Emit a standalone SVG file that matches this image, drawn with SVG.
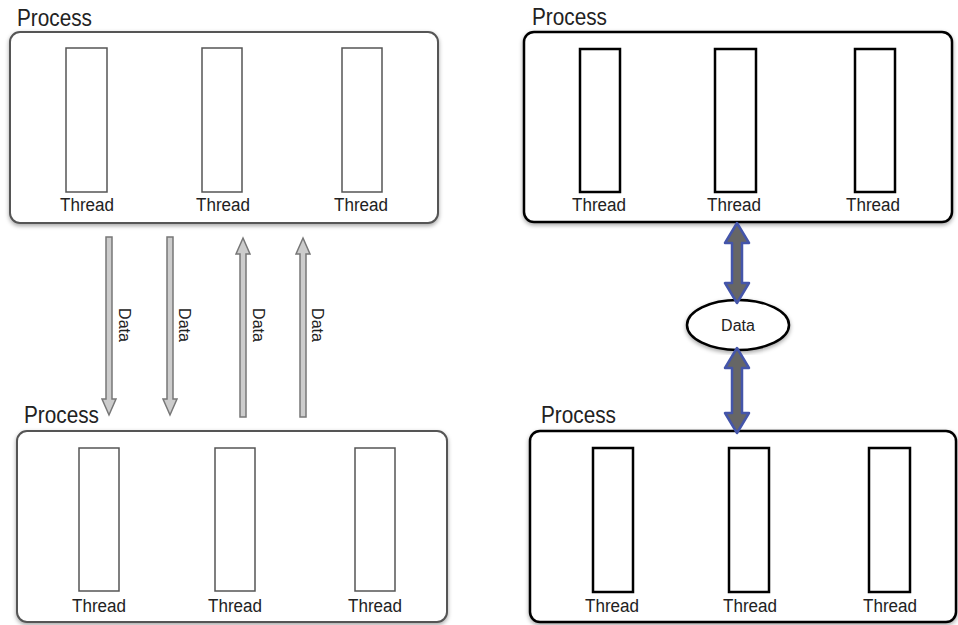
<svg xmlns="http://www.w3.org/2000/svg" width="958" height="625" viewBox="0 0 958 625">
<defs>
<filter id="sh" x="-5%" y="-5%" width="110%" height="115%">
<feDropShadow dx="0" dy="2" stdDeviation="2" flood-color="#000" flood-opacity="0.35"/>
</filter>
</defs>
<style>
text{font-family:"Liberation Sans",Arial,sans-serif;fill:#222}
.title{font-size:24px}
.th{font-size:18px;text-anchor:middle}
.lab{font-size:16px}
.boxL{fill:#fff;stroke:#555;stroke-width:2}
.boxR{fill:#fff;stroke:#000;stroke-width:2.5}
.thL{fill:#fff;stroke:#555;stroke-width:1.5}
.thR{fill:#fff;stroke:#000;stroke-width:2.5}
.arL{fill:#ccc;stroke:#777;stroke-width:1.5}
.arR{fill:#666;stroke:#4455aa;stroke-width:2.5;stroke-linejoin:round}
</style>
<rect width="958" height="625" fill="#fff"/>

<g id="processTL">
<text class="title" x="17" y="26" textLength="75" lengthAdjust="spacingAndGlyphs">Process</text>
<rect class="boxL" x="10" y="32" width="428" height="191" rx="10" filter="url(#sh)"/>
<rect class="thL" x="66" y="48" width="41" height="144"/>
<rect class="thL" x="202" y="48" width="40" height="144"/>
<rect class="thL" x="342" y="48" width="40" height="144"/>
<text class="th" x="87" y="211" textLength="54" lengthAdjust="spacingAndGlyphs">Thread</text>
<text class="th" x="223" y="211" textLength="54" lengthAdjust="spacingAndGlyphs">Thread</text>
<text class="th" x="361" y="211" textLength="54" lengthAdjust="spacingAndGlyphs">Thread</text>
</g>

<g id="processBL">
<text class="title" x="24" y="423" textLength="75" lengthAdjust="spacingAndGlyphs">Process</text>
<rect class="boxL" x="17" y="431" width="430" height="191" rx="10" filter="url(#sh)"/>
<rect class="thL" x="79" y="448" width="40" height="143"/>
<rect class="thL" x="215" y="448" width="40" height="143"/>
<rect class="thL" x="355" y="448" width="40" height="143"/>
<text class="th" x="99" y="612" textLength="54" lengthAdjust="spacingAndGlyphs">Thread</text>
<text class="th" x="235" y="612" textLength="54" lengthAdjust="spacingAndGlyphs">Thread</text>
<text class="th" x="375" y="612" textLength="54" lengthAdjust="spacingAndGlyphs">Thread</text>
</g>

<g id="processTR">
<text class="title" x="532" y="25" textLength="75" lengthAdjust="spacingAndGlyphs">Process</text>
<rect class="boxR" x="524" y="32" width="428" height="190" rx="10" filter="url(#sh)"/>
<rect class="thR" x="580" y="49" width="40" height="143"/>
<rect class="thR" x="715" y="49" width="41" height="143"/>
<rect class="thR" x="855" y="49" width="40" height="143"/>
<text class="th" x="599" y="211" textLength="54" lengthAdjust="spacingAndGlyphs">Thread</text>
<text class="th" x="734" y="211" textLength="54" lengthAdjust="spacingAndGlyphs">Thread</text>
<text class="th" x="873" y="211" textLength="54" lengthAdjust="spacingAndGlyphs">Thread</text>
</g>

<g id="processBR">
<text class="title" x="541" y="423" textLength="75" lengthAdjust="spacingAndGlyphs">Process</text>
<rect class="boxR" x="530" y="431" width="426" height="191" rx="10" filter="url(#sh)"/>
<rect class="thR" x="593" y="448" width="40" height="144"/>
<rect class="thR" x="729" y="448" width="40" height="144"/>
<rect class="thR" x="869" y="448" width="41" height="144"/>
<text class="th" x="612" y="612" textLength="54" lengthAdjust="spacingAndGlyphs">Thread</text>
<text class="th" x="750" y="612" textLength="54" lengthAdjust="spacingAndGlyphs">Thread</text>
<text class="th" x="890" y="612" textLength="54" lengthAdjust="spacingAndGlyphs">Thread</text>
</g>

<g id="dataNode">
<ellipse cx="738" cy="325" rx="51" ry="25" fill="#fff" stroke="#000" stroke-width="2.5" filter="url(#sh)"/>
<text x="738" y="331" font-size="16" text-anchor="middle">Data</text>
</g>

<g id="connectors">
<path class="arL" d="M106,237 L112,237 L112,399 L116,399 L109,415 L102,399 L106,399 Z"/>
<path class="arL" d="M167,237 L173,237 L173,399 L177,399 L170,415 L163,399 L167,399 Z"/>
<path class="arL" d="M243,238 L250,254 L246,254 L246,417 L240,417 L240,254 L236,254 Z"/>
<path class="arL" d="M303,238 L310,254 L306,254 L306,417 L300,417 L300,254 L296,254 Z"/>
<text class="lab" transform="translate(119,325) rotate(90)" text-anchor="middle">Data</text>
<text class="lab" transform="translate(179,325) rotate(90)" text-anchor="middle">Data</text>
<text class="lab" transform="translate(253,325) rotate(90)" text-anchor="middle">Data</text>
<text class="lab" transform="translate(312,325) rotate(90)" text-anchor="middle">Data</text>
<path class="arR" d="M737,223 L749,243 L742,243 L742,283 L749,283 L737,303 L725,283 L732,283 L732,243 L725,243 Z"/>
<path class="arR" d="M737,348 L749,368 L742,368 L742,413 L749,413 L737,433 L725,413 L732,413 L732,368 L725,368 Z"/>
</g>
</svg>
